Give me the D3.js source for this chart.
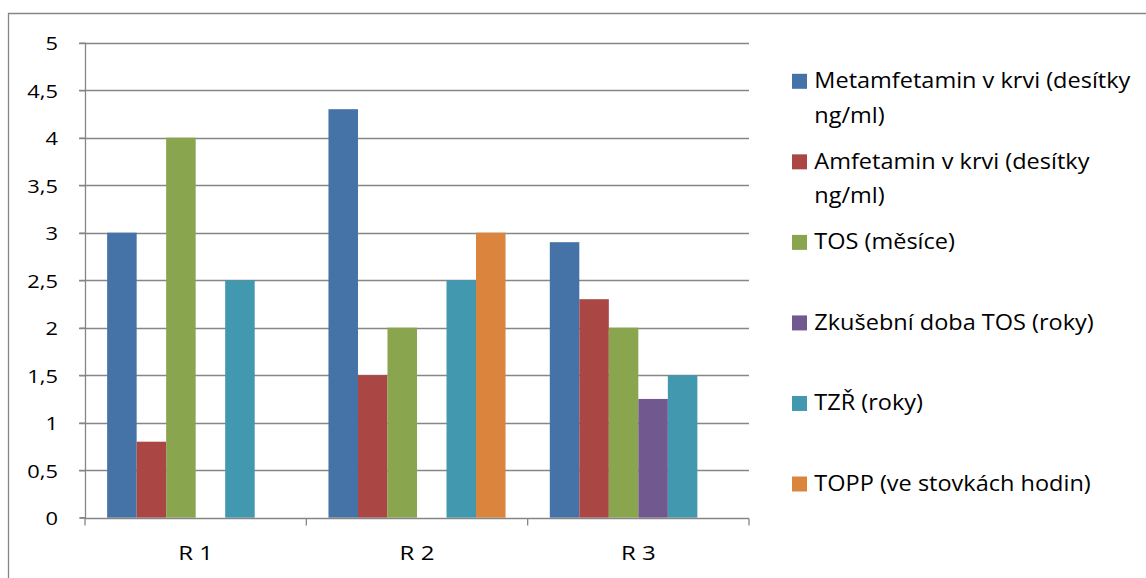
<!DOCTYPE html>
<html><head><meta charset="utf-8">
<script src="https://cdn.jsdelivr.net/npm/d3@7"></script>
<style>body{margin:0;background:#fff;} text{font-family:"Open Sans",Lato,sans-serif;fill:#000;}</style>
</head><body>
<svg id="c" width="1146" height="578"></svg>
<script>
const categories = ["R 1", "R 2", "R 3"];
const seriesNames = ["Metamfetamin v krvi (desítky ng/ml)", "Amfetamin v krvi (desítky ng/ml)", "TOS (měsíce)", "Zkušební doba TOS (roky)", "TZŘ (roky)", "TOPP (ve stovkách hodin)"];
const legendLines = [["Metamfetamin v krvi (desítky", "ng/ml)"], ["Amfetamin v krvi (desítky", "ng/ml)"], ["TOS (měsíce)"], ["Zkušební doba TOS (roky)"], ["TZŘ (roky)"], ["TOPP (ve stovkách hodin)"]];
const metamfetamin = [3, 4.3, 2.9];
const amfetamin = [0.8, 1.5, 2.3];
const tos = [4, 2, 2];
const zkusebniDoba = [null, null, 1.25];
const tzr = [2.5, 2.5, 1.5];
const topp = [null, 3, null];
const yTicks = [0, 0.5, 1, 1.5, 2, 2.5, 3, 3.5, 4, 4.5, 5];
const colors = ["#4572A7", "#AA4643", "#89A54E", "#71588F", "#4198AF", "#DB843D"];

(function () {
const series = [metamfetamin, amfetamin, tos, zkusebniDoba, tzr, topp];
const svg = d3.select("#c");
const grid = "#868686";

svg.append("path").attr("d", "M8.5,600V13.5H1160").attr("fill", "none").attr("stroke", grid).attr("stroke-width", 1.3);

const pL = 85, pR = 749, pT = 42.7, pB = 517.7;
const x = d3.scaleBand().domain(categories).range([pL, pR]).paddingInner(0).paddingOuter(0);
const y = d3.scaleLinear().domain([0, 5]).range([pB, pT]);
const inner = d3.scaleBand().domain(d3.range(series.length)).range([0, x.bandwidth()]).paddingOuter(0.75).paddingInner(0);

svg.append("g").selectAll("line").data(yTicks.filter(t => t > 0)).join("line")
  .attr("x1", pL - 6).attr("x2", pR).attr("y1", d => Math.round(y(d)) + 0.5).attr("y2", d => Math.round(y(d)) + 0.5)
  .attr("stroke", grid).attr("stroke-width", 1.3);

series.forEach((vals, si) => {
  svg.append("g").selectAll("rect").data(categories.map((c, i) => ({c, v: vals[i]})).filter(d => d.v != null)).join("rect")
    .attr("x", d => x(d.c) + inner(si)).attr("width", inner.bandwidth())
    .attr("y", d => y(d.v)).attr("height", d => y(0) - y(d.v)).attr("fill", colors[si]);
});

const yAxis = svg.append("g").attr("transform", `translate(${pL + 0.5},0)`)
  .call(d3.axisLeft(y).tickValues(yTicks).tickSize(6).tickPadding(10).tickFormat(d => String(d).replace(".", ",")));
yAxis.select(".domain").attr("stroke", grid).attr("stroke-width", 1.3).attr("d", `M-6,${pB}H0V${pT}`);
yAxis.selectAll(".tick line").attr("stroke", grid).attr("stroke-width", 1.3);
yAxis.selectAll(".tick text").attr("font-size", 19).attr("x", 0).attr("dy", "0.36em")
  .attr("transform", "translate(-27.5,0) scale(1.15,1)")
  .style("font-family", "'Open Sans',sans-serif").attr("fill", "#000");

const xAxis = svg.append("g").attr("transform", `translate(0,${Math.round(pB) + 0.5})`);
xAxis.append("line").attr("x1", pL).attr("x2", pR).attr("stroke", grid).attr("stroke-width", 1.3);
xAxis.selectAll("line.t").data([...categories.map(c => x(c)), pR]).join("line").attr("class", "t")
  .attr("x1", d => d).attr("x2", d => d).attr("y1", 0).attr("y2", 7).attr("stroke", grid).attr("stroke-width", 1.3);
xAxis.selectAll("text").data(categories).join("text")
  .attr("transform", d => `translate(${x(d) + x.bandwidth() / 2},41) scale(1.2,1)`)
  .attr("text-anchor", "middle").attr("font-size", 20).text(d => d);

const lg = svg.append("g");
const legendY = d3.scalePoint().domain(d3.range(series.length)).range([81.3, 484]);
legendLines.forEach((lines, i) => {
  const g = lg.append("g").attr("transform", `translate(792,${legendY(i)})`);
  g.append("rect").attr("x", 0).attr("y", -7.5).attr("width", 15).attr("height", 15).attr("fill", colors[i]);
  lines.forEach((t, j) => g.append("text").attr("transform", `translate(22.3,${7 + j * 34.5}) scale(1.12,1)`)
    .attr("font-size", 21).text(t));
});
})();
</script>
</body></html>
